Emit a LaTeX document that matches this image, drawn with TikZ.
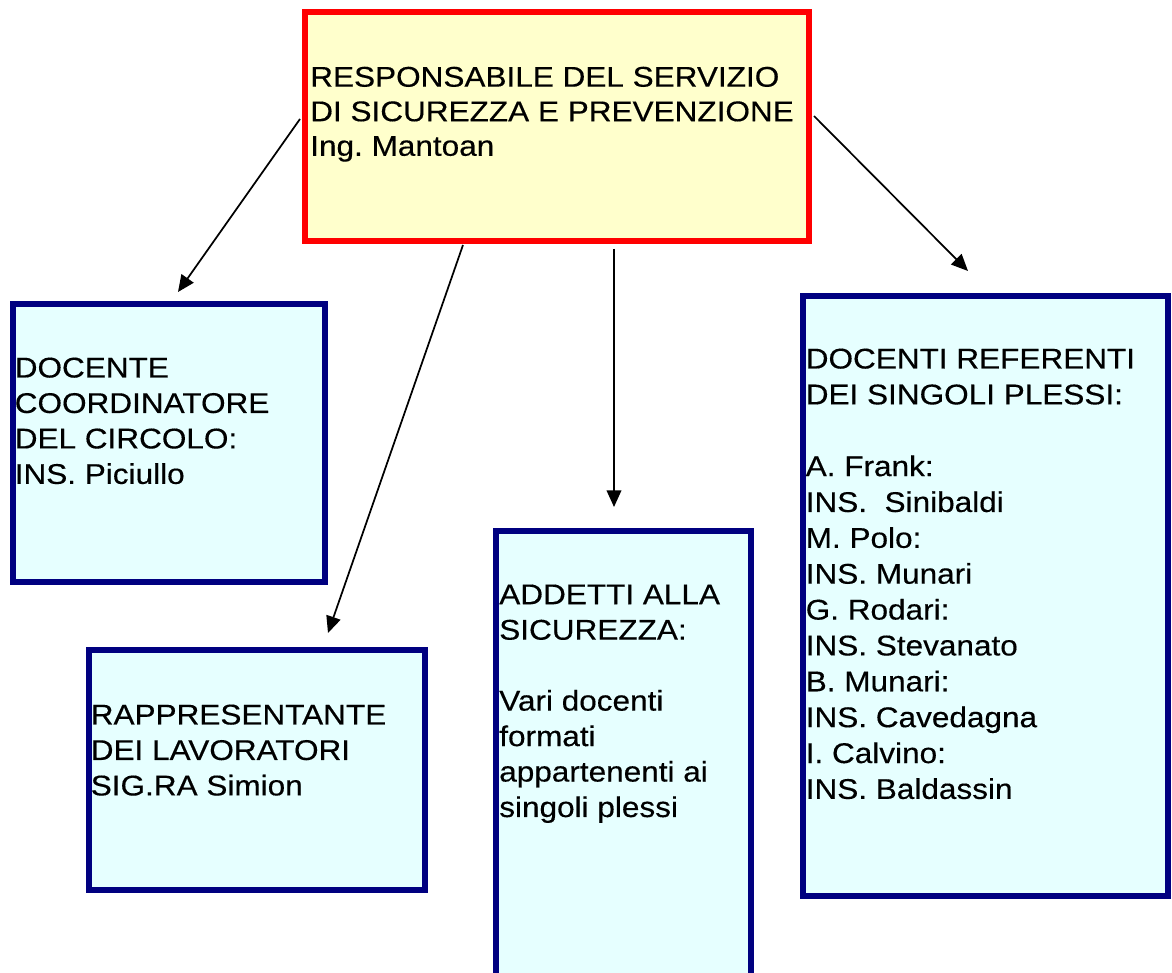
\documentclass[tikz,border=0pt]{standalone}
\usepackage{fontspec}
\setmainfont[FakeStretch=1.105,FakeBold=0.35]{Liberation Sans}
\usetikzlibrary{arrows.meta}
\definecolor{navyb}{RGB}{0,0,128}
\definecolor{cyanf}{RGB}{230,255,255}
\definecolor{redb}{RGB}{255,0,0}
\definecolor{yellowf}{RGB}{255,255,204}
\frenchspacing
\begin{document}
\begin{tikzpicture}[x=0.75pt,y=-0.75pt,
  redbox/.style={draw=redb, fill=yellowf, line width=4.5pt, inner sep=0pt},
  navybox/.style={draw=navyb, fill=cyanf, line width=4.5pt, inner sep=0pt},
  txt/.style={anchor=north west, inner sep=0pt, align=left, text=black,
    font=\fontsize{21.4pt}{26.6pt}\selectfont},
  arr/.style={-{Triangle[length=12.5pt,width=11pt]}, line width=1.3pt, black}]
\clip (0,0) rectangle (1172,973);
% boxes
\node[redbox, minimum width=378pt, minimum height=171.75pt] (top) at (557,126.5) {};
\node[navybox, minimum width=234pt, minimum height=208.5pt] (b1) at (169,443) {};
\node[navybox, minimum width=252pt, minimum height=180pt] (b2) at (257,770) {};
\node[navybox, minimum width=191.25pt, minimum height=351.75pt] (b3) at (623.5,765.5) {};
\node[navybox, minimum width=273.75pt, minimum height=450pt] (b4) at (985.5,596) {};
% texts
\node[txt, font=\fontsize{21.4pt}{25.9pt}\selectfont] (topt) at (310,66.5) {RESPONSABILE DEL SERVIZIO\\DI SICUREZZA E PREVENZIONE\\Ing.\ Mantoan};
\node[txt] (b1t) at (14.5,357.3) {DOCENTE\\COORDINATORE\\DEL CIRCOLO:\\INS. Piciullo};
\node[txt] (b2t) at (90.5,704.3) {RAPPRESENTANTE\\DEI LAVORATORI\\SIG.RA Simion};
\node[txt] (b3t) at (499,584.3) {ADDETTI ALLA\\SICUREZZA:\\\mbox{}\\Vari docenti\\formati\\appartenenti ai\\singoli plessi};
\node[txt, font=\fontsize{21.4pt}{26.9pt}\selectfont] (b4t) at (805.5,348.3) {DOCENTI REFERENTI\\DEI SINGOLI PLESSI:\\\mbox{}\\A. Frank:\\INS.\ \ Sinibaldi\\M. Polo:\\INS. Munari\\G. Rodari:\\INS. Stevanato\\B. Munari:\\INS. Cavedagna\\I. Calvino:\\INS. Baldassin};
% arrow ends
\coordinate (s1) at (300,119);
\coordinate (e1) at (178,292);
\coordinate (s2) at (463,245);
\coordinate (e2) at (328,633);
\coordinate (s3) at (614,249);
\coordinate (e3) at (614,507);
\coordinate (s4) at (814,116);
\coordinate (e4) at (968,271);
\draw[arr] (s1) -- (e1);
\draw[arr] (s2) -- (e2);
\draw[arr] (s3) -- (e3);
\draw[arr] (s4) -- (e4);
\end{tikzpicture}
\end{document}
